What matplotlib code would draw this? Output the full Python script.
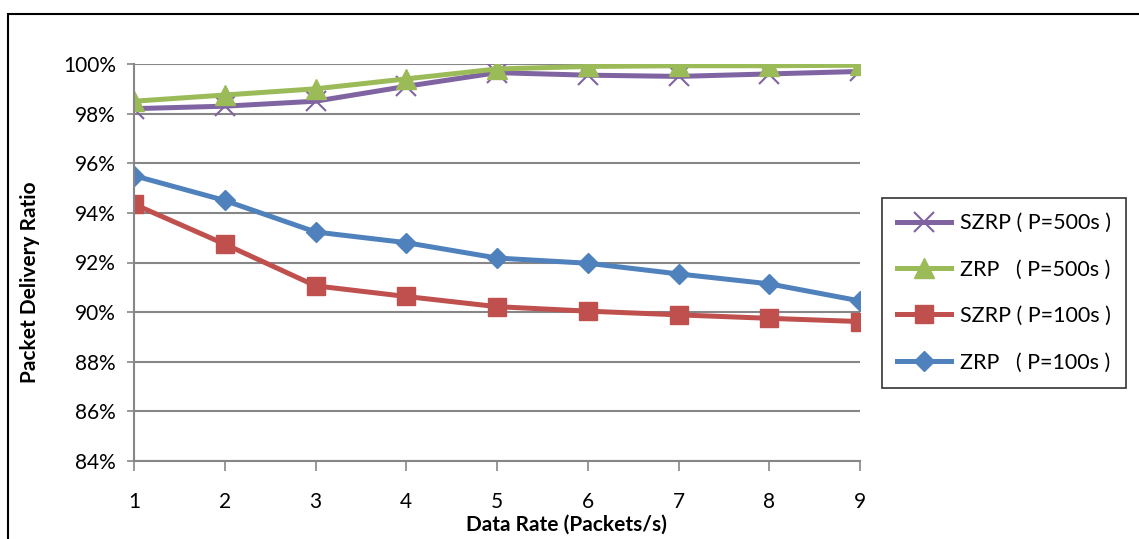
import matplotlib.pyplot as plt
import numpy as np
from matplotlib.patches import Rectangle
from matplotlib.ticker import PercentFormatter

plt.rcParams['font.family'] = ['Lato', 'DejaVu Sans']

# data rate (packets/s)
rate = [1, 2, 3, 4, 5, 6, 7, 8, 9]

# packet delivery ratio, percent
szrp_500 = [98.2, 98.3, 98.5, 99.1, 99.65, 99.55, 99.5, 99.6, 99.7]
zrp_500 = [98.5, 98.75, 99.0, 99.4, 99.8, 99.9, 99.93, 99.93, 99.95]
szrp_100 = [94.35, 92.74, 91.06, 90.63, 90.22, 90.04, 89.89, 89.75, 89.62]
zrp_100 = [95.5, 94.5, 93.23, 92.8, 92.18, 91.97, 91.54, 91.14, 90.45]

labels = ['SZRP ( P=500s )', 'ZRP   ( P=500s )', 'SZRP ( P=100s )', 'ZRP   ( P=100s )']

W, H = 1139, 539
fig = plt.figure(figsize=(W / 100, H / 100), dpi=100)
ax = fig.add_axes([134 / W, 1 - 461 / H, (860 - 134) / W, (461 - 64) / H])

lw = 3.6
ax.plot(rate, szrp_500, color='#8064A2', lw=lw, marker='x', ms=14, mew=1.5, label=labels[0])
ax.plot(rate, zrp_500, color='#9BBB59', lw=lw, marker='^', ms=14, label=labels[1])
ax.plot(rate, szrp_100, color='#C0504D', lw=lw, marker='s', ms=13.5, label=labels[2])
ax.plot(rate, zrp_100, color='#4F81BD', lw=lw, marker='D', ms=10, label=labels[3])

ax.set_xlim(1, 9)
ax.set_ylim(84, 100)
ax.set_xticks(rate)
ax.set_yticks(np.arange(84, 101, 2))
ax.yaxis.set_major_formatter(PercentFormatter(decimals=0))
ax.grid(axis='y', color='#868686', lw=1.5)
ax.set_axisbelow(True)

for s in ['top', 'right']:
    ax.spines[s].set_visible(False)
for s in ['left', 'bottom']:
    ax.spines[s].set_color('#868686')
    ax.spines[s].set_linewidth(1.5)

ax.tick_params(axis='x', direction='out', length=7, width=1.2, color='#868686',
               labelsize=15, pad=15)
ax.tick_params(axis='y', direction='out', length=5, width=1.2, color='#868686',
               labelsize=15, pad=8)

fig.text(30 / W, 1 - 282 / H, 'Packet Delivery Ratio', rotation=90, ha='center',
         va='center', fontsize=15, fontweight='bold')
fig.text(566 / W, 1 - 525 / H, 'Data Rate (Packets/s)', ha='center', va='center',
         fontsize=15, fontweight='bold')

leg = ax.legend(loc='upper left', bbox_to_anchor=(882 / W, 1 - 198 / H),
                bbox_transform=fig.transFigure, borderaxespad=0, fontsize=15.5,
                frameon=True, fancybox=False, edgecolor='black', handlelength=2.5,
                labelspacing=1.23, borderpad=0.7, handletextpad=0.4)
leg.get_frame().set_linewidth(1.2)

# outer chart frame (cut off at right and bottom)
fig.add_artist(Rectangle((8 / W, -0.1), 1.2, 1 - 14 / H + 0.1,
                         transform=fig.transFigure, fill=False,
                         ec='black', lw=1.5))

fig.savefig('out.png', dpi=100)
